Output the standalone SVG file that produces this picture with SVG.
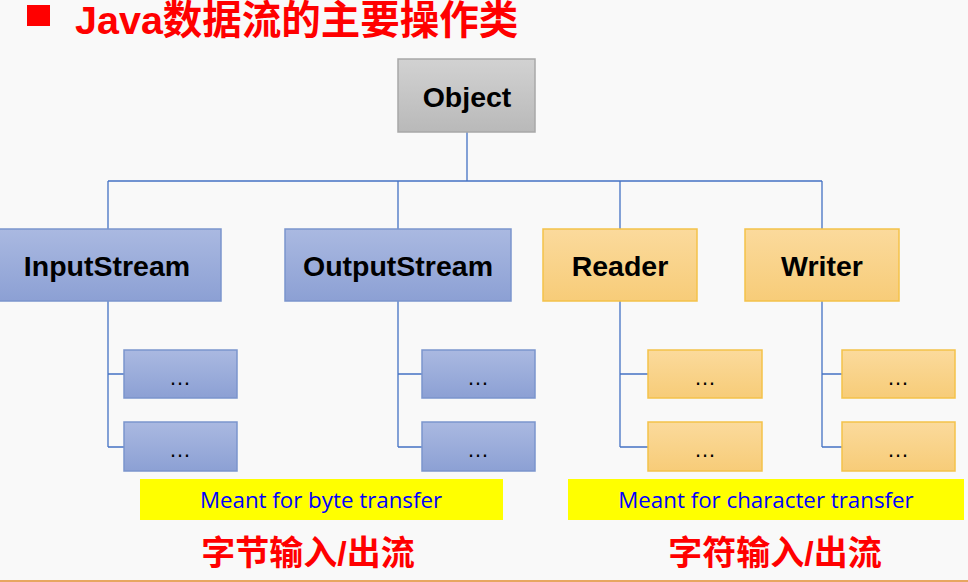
<svg xmlns="http://www.w3.org/2000/svg" width="968" height="582" viewBox="0 0 968 582">
<defs>
<linearGradient id="gGray" x1="0" y1="0" x2="0" y2="1"><stop offset="0" stop-color="#d2d2d2"/><stop offset="1" stop-color="#b9b9b9"/></linearGradient>
<linearGradient id="gBlue" x1="0" y1="0" x2="0" y2="1"><stop offset="0" stop-color="#aab9e1"/><stop offset="1" stop-color="#8ca0d4"/></linearGradient>
<linearGradient id="gOrange" x1="0" y1="0" x2="0" y2="1"><stop offset="0" stop-color="#fbda9c"/><stop offset="1" stop-color="#f7cc78"/></linearGradient>
<style>
.gray{fill:url(#gGray);stroke:#a8a8a8;stroke-width:1.5}
.blue{fill:url(#gBlue);stroke:#7b95cd;stroke-width:1.5}
.orange{fill:url(#gOrange);stroke:#f4c24a;stroke-width:1.5}
.big{font-family:"Liberation Sans",Arial,sans-serif;font-weight:bold;font-size:28.5px;fill:#000;text-anchor:middle}
.dots{font-family:"Liberation Sans",Arial,sans-serif;font-size:22px;fill:#000;text-anchor:middle}
.conn{fill:none;stroke:#4472c4;stroke-width:1.3}
.note{fill:#ffff00}
.noteText{font-family:"Open Sans","Liberation Sans",sans-serif;font-size:22.3px;fill:#0000ff;text-anchor:middle}
.cn{font-family:"Liberation Sans","Noto Sans CJK SC",sans-serif;font-weight:bold;font-size:34px;fill:#ff0000;text-anchor:middle}
</style>
</defs>
<rect width="968" height="582" fill="#f9f9f9"/>
<line x1="0" y1="581" x2="968" y2="581" stroke="#e08a2c" stroke-width="1.5"/>
<g id="title">
<rect x="27" y="5" width="23" height="21" fill="#ff0000"/>
<text x="75" y="34" font-family="Liberation Sans,Noto Sans CJK SC,sans-serif" font-weight="bold" font-size="39.5" fill="#ff0000">Java数据流的主要操作类</text>
</g>
<g id="connectors">
<path class="conn" d="M467 132V181M108 181H822M108 181V229M398 181V229M620 181V229M822 181V229"/>
<path class="conn" d="M108 301V447M108 374H124M108 447H124"/>
<path class="conn" d="M398 301V447M398 374H422M398 447H422"/>
<path class="conn" d="M620 301V447M620 374H648M620 447H648"/>
<path class="conn" d="M822 301V447M822 374H842M822 447H842"/>
</g>
<g id="object"><rect class="gray" x="398" y="59" width="137" height="73"/><text class="big" x="467" y="107">Object</text></g>
<g id="inputstream"><rect class="blue" x="-2" y="229" width="223" height="72"/><text class="big" x="107" y="276">InputStream</text></g>
<g id="outputstream"><rect class="blue" x="285" y="229" width="226" height="72"/><text class="big" x="398" y="276">OutputStream</text></g>
<g id="reader"><rect class="orange" x="543" y="229" width="154" height="72"/><text class="big" x="620" y="276">Reader</text></g>
<g id="writer"><rect class="orange" x="745" y="229" width="154" height="72"/><text class="big" x="822" y="276">Writer</text></g>
<g id="in1"><rect class="blue" x="124" y="350" width="113" height="48"/><text class="dots" x="180" y="385">…</text></g>
<g id="in2"><rect class="blue" x="124" y="422" width="113" height="49"/><text class="dots" x="180" y="457">…</text></g>
<g id="out1"><rect class="blue" x="422" y="350" width="113" height="48"/><text class="dots" x="478" y="385">…</text></g>
<g id="out2"><rect class="blue" x="422" y="422" width="113" height="49"/><text class="dots" x="478" y="457">…</text></g>
<g id="rd1"><rect class="orange" x="648" y="350" width="114" height="48"/><text class="dots" x="705" y="385">…</text></g>
<g id="rd2"><rect class="orange" x="648" y="422" width="114" height="49"/><text class="dots" x="705" y="457">…</text></g>
<g id="wr1"><rect class="orange" x="842" y="350" width="113" height="48"/><text class="dots" x="898" y="385">…</text></g>
<g id="wr2"><rect class="orange" x="842" y="422" width="113" height="49"/><text class="dots" x="898" y="457">…</text></g>
<g id="byteNote"><rect class="note" x="140" y="479" width="363" height="41"/><text class="noteText" x="321" y="508">Meant for byte transfer</text></g>
<g id="charNote"><rect class="note" x="568" y="479" width="396" height="41"/><text class="noteText" x="766" y="508">Meant for character transfer</text></g>
<text class="cn" x="308" y="565">字节输入/出流</text>
<text class="cn" x="775" y="565">字符输入/出流</text>
</svg>
